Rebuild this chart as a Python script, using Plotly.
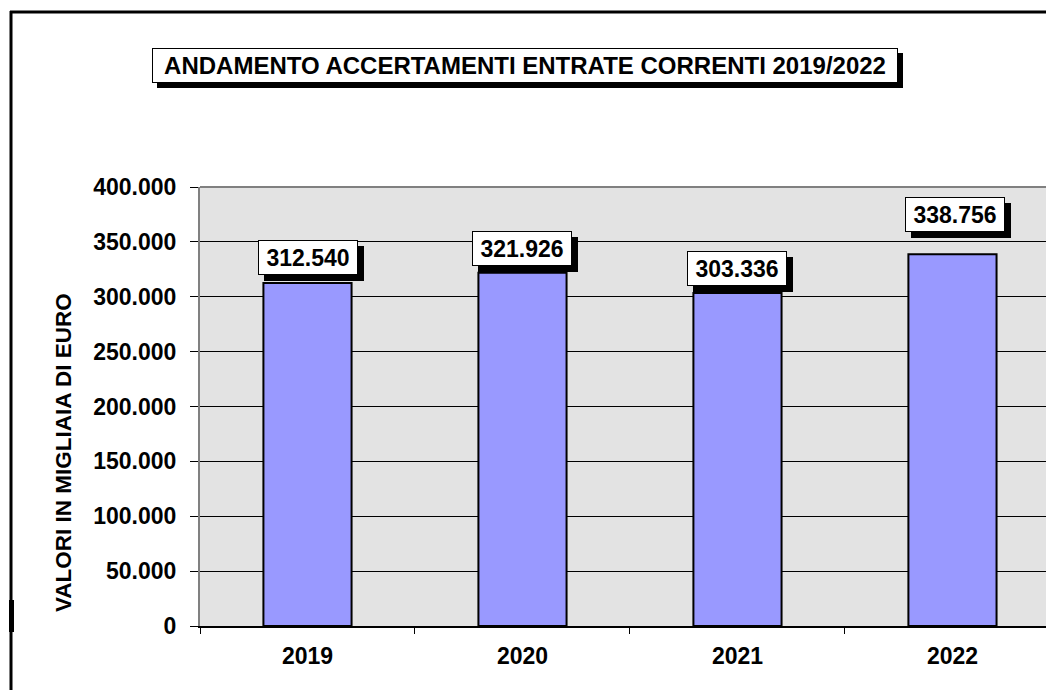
import plotly.graph_objects as go

years = ["2019", "2020", "2021", "2022"]
values = [312540, 321926, 303336, 338756]
value_labels = ["312.540", "321.926", "303.336", "338.756"]
y_tickvals = [0, 50000, 100000, 150000, 200000, 250000, 300000, 350000, 400000]
y_ticktext = ["0", "50.000", "100.000", "150.000", "200.000", "250.000", "300.000", "350.000", "400.000"]
title_text = "ANDAMENTO ACCERTAMENTI ENTRATE CORRENTI 2019/2022"
y_title = "VALORI IN MIGLIAIA DI EURO"

label_yshift = [8, 7, 7, 22]
label_xshift = [0, 0, 0, 3]

W, H = 1046, 690
L, R, T, B = 200, 0, 187, 64
PW, PH = W - L - R, H - T - B

def px(x):
    return (x - L) / PW

def py(y):
    return (H - B - y) / PH

FONT = "Arial, Liberation Sans, sans-serif"

fig = go.Figure()
fig.add_trace(go.Bar(
    x=years, y=values,
    marker=dict(color="#9999FF", line=dict(color="black", width=2)),
    width=0.41,
))

annotations = []
# value labels with shadows (x given as category index)
for i, (v, lab, ys, xs) in enumerate(zip(values, value_labels, label_yshift, label_xshift)):
    common = dict(x=i, y=v, xref="x", yref="y", xanchor="center", yanchor="bottom",
                  showarrow=False, width=96, height=31, borderpad=1, borderwidth=1,
                  font=dict(family=FONT, size=23, color="black"))
    annotations.append(dict(common, text=" ", bgcolor="black", bordercolor="black",
                            yshift=ys - 6, xshift=xs + 6))
    annotations.append(dict(common, text="<b>" + lab + "</b>", bgcolor="white",
                            bordercolor="black", yshift=ys, xshift=xs))

# title box with shadow
tcommon = dict(x=px(525), y=py(65), xref="paper", yref="paper", xanchor="center",
               yanchor="middle", showarrow=False, width=742, height=31, borderpad=1,
               borderwidth=1, font=dict(family=FONT, size=24, color="black"))
annotations.append(dict(tcommon, text=" ", bgcolor="black", bordercolor="black",
                        xshift=5, yshift=-5))
annotations.append(dict(tcommon, text="<b>" + title_text + "</b>", bgcolor="white",
                        bordercolor="black"))

# y-axis title
annotations.append(dict(x=px(63), y=py(453), xref="paper", yref="paper", showarrow=False,
                        text="<b>" + y_title + "</b>", textangle=-90,
                        font=dict(family=FONT, size=22.5, color="black"),
                        xanchor="center", yanchor="middle"))

shapes = [
    dict(type="line", xref="paper", yref="paper", x0=0, x1=1.02, y0=1, y1=1,
         line=dict(color="#808080", width=2), layer="above"),
    dict(type="line", xref="paper", yref="paper", x0=px(10), x1=px(1050), y0=py(12), y1=py(12),
         line=dict(color="black", width=3)),
    dict(type="line", xref="paper", yref="paper", x0=px(11), x1=px(11), y0=py(11), y1=py(695),
         line=dict(color="black", width=3)),
    dict(type="rect", xref="paper", yref="paper", x0=px(9), x1=px(14), y0=py(600), y1=py(632),
         fillcolor="black", line=dict(width=0)),
]

fig.update_layout(
    width=W, height=H,
    margin=dict(l=L, r=R, t=T, b=B, pad=0),
    paper_bgcolor="white",
    plot_bgcolor="#e3e3e3",
    showlegend=False,
    annotations=annotations,
    shapes=shapes,
    font=dict(family=FONT, color="black"),
    xaxis=dict(
        type="category",
        range=[-0.5, 3.435],
        tickson="boundaries",
        ticks="outside", ticklen=6, tickcolor="black", tickwidth=1,
        showgrid=False,
        showline=True, linecolor="black", linewidth=2,
        tickfont=dict(family=FONT, size=23, color="black"),
        tickvals=years, ticktext=["<b>" + y + "</b>" for y in years],
        ticklabelstandoff=8,
    ),
    yaxis=dict(
        range=[0, 400000],
        tickvals=y_tickvals,
        ticktext=["<b>" + t + "</b>" for t in y_ticktext],
        ticks="outside", ticklen=8, tickcolor="black", tickwidth=1,
        showgrid=True, gridcolor="black", gridwidth=1,
        zeroline=False,
        showline=True, linecolor="#808080", linewidth=2,
        tickfont=dict(family=FONT, size=23, color="black"),
        ticklabelstandoff=9,
    ),
)

fig.write_html("out.html", config={"displayModeBar": False},
               post_script="document.body.style.margin='0';")
